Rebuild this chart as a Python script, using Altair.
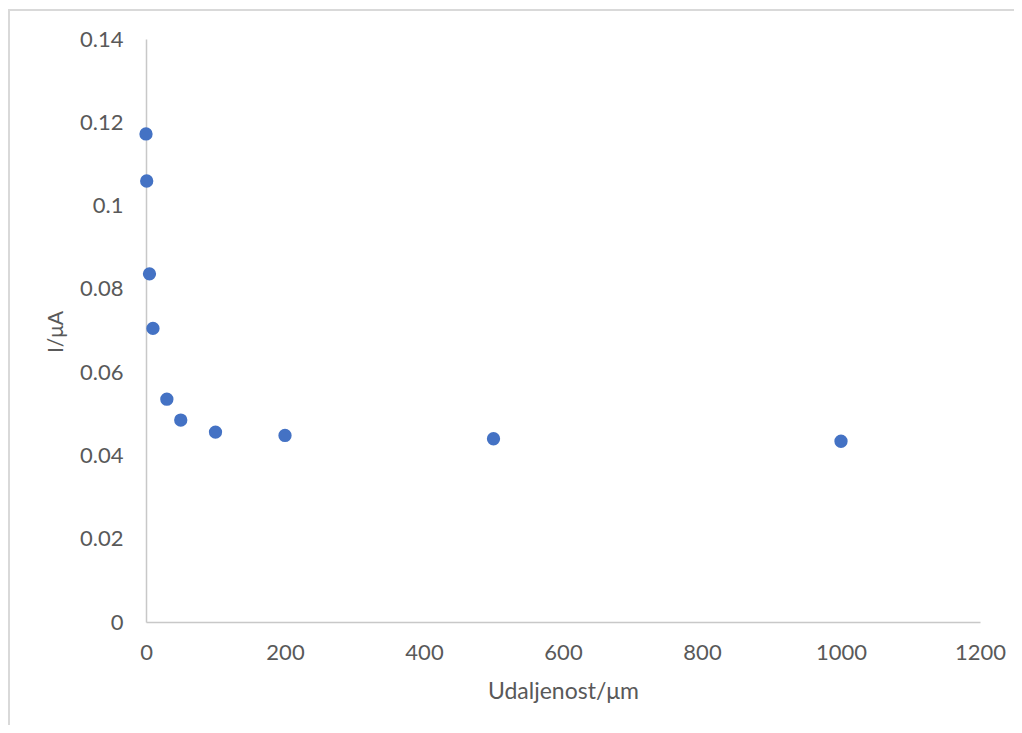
import altair as alt
import pandas as pd

distance_um = [0, 1, 5, 10, 30, 50, 100, 200, 500, 1000]
current_uA = [0.1172, 0.1059, 0.0836, 0.0705, 0.0535, 0.0485, 0.0456, 0.0448, 0.0440, 0.0434]
x_ticks = [0, 200, 400, 600, 800, 1000, 1200]
y_ticks = [0, 0.02, 0.04, 0.06, 0.08, 0.1, 0.12, 0.14]

df = pd.DataFrame({"d": distance_um, "i": current_uA})

W, H = 834, 583
PAD_L, PAD_T, PAD_R, PAD_B = 138, 31, 34, 103
FONT = "Lato"
LABEL_COLOR = "#595959"

points = alt.Chart(df).mark_circle(size=177, color="#4472C4", opacity=1).encode(
    x=alt.X(
        "d:Q",
        scale=alt.Scale(domain=[0, 1200], nice=False, zero=False),
        axis=alt.Axis(
            values=x_ticks,
            format="d",
            labelFlush=False,
            title="Udaljenost/μm",
            titleFontSize=23,
            labelPadding=20,
            titleX=W / 2,
            titleY=69,
            titleAlign="center",
            titleBaseline="middle",
        ),
    ),
    y=alt.Y(
        "i:Q",
        scale=alt.Scale(domain=[0, 0.14], nice=False),
        axis=alt.Axis(
            values=y_ticks,
            labelExpr="format(datum.value, '~g')",
            title="I/μA",
            titleFontSize=21,
            labelPadding=23,
            titleX=-90,
            titleY=H / 2 + 1,
            titleAngle=270,
            titleAlign="center",
            titleBaseline="middle",
        ),
    ),
)

border_top = alt.Chart(df).mark_rule(color="#D9D9D9", strokeWidth=2).encode(
    x=alt.value(-PAD_L), x2=alt.value(W + PAD_R), y=alt.value(-PAD_T + 2)
)
border_left = alt.Chart(df).mark_rule(color="#D9D9D9", strokeWidth=2).encode(
    x=alt.value(-PAD_L + 1), y=alt.value(-PAD_T + 2), y2=alt.value(H + PAD_B)
)

chart = (
    alt.layer(points, border_top, border_left)
    .properties(
        width=W,
        height=H,
        autosize=alt.AutoSizeParams(type="none"),
        padding={"left": PAD_L, "top": PAD_T, "right": PAD_R, "bottom": PAD_B},
        background="white",
    )
    .configure_view(stroke=None)
    .configure_axis(
        grid=False,
        ticks=False,
        domainColor="#C8C8C8",
        domainWidth=1.5,
        labelFont=FONT,
        labelFontSize=22,
        labelColor=LABEL_COLOR,
        titleFont=FONT,
        titleFontWeight="normal",
        titleColor=LABEL_COLOR,
    )
)

chart.save("out.html", embed_options={"renderer": "svg", "actions": False})
